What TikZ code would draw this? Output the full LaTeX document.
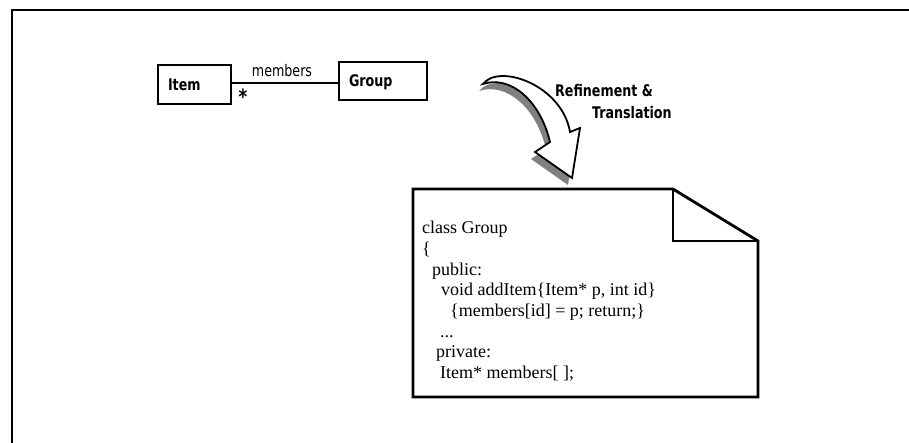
\documentclass[tikz,border=0pt]{standalone}
\usepackage{fontspec}
\setmainfont{Liberation Serif}
\newfontfamily\labelfont[FakeStretch=0.88]{DejaVu Sans Condensed}
\newfontfamily\codefont{Liberation Serif}
\definecolor{arrowshadow}{RGB}{128,128,128}
\begin{document}
\begin{tikzpicture}[x=1pt,y=-1pt,
  classbox/.style={draw, line width=2.6pt, anchor=center, inner xsep=10pt,
    align=left, text height=11.7pt, text depth=0pt,
    font=\labelfont\fontsize{16}{18}\selectfont\bfseries},
  assoc/.style={line width=2pt},
  smalllabel/.style={font=\labelfont\fontsize{16}{18}\selectfont, inner sep=0pt},
  bigarrow/.style={draw, line width=1.8pt, fill=white, line join=miter},
  notebox/.style={line width=2.8pt, line join=miter},
  codeline/.style={font=\codefont\fontsize{18}{20.6}\selectfont, anchor=base west, inner sep=0pt}]
  \useasboundingbox (0,0) rectangle (909,443);

  % frame
  \draw[line width=1.4pt] (12,443) -- (12,10) -- (909,10);

  % class diagram
  \node[classbox, text width=53pt, minimum height=39pt] (item) at (194.5,84.5) {Item};
  \node[classbox, text width=68pt, minimum height=38pt] (group) at (383,81) {Group};
  \coordinate (assocend) at (item.east -| group.west);
  \draw[assoc] ([yshift=1.5pt]item.east) -- ([yshift=1.5pt]assocend);
  \node[smalllabel, anchor=base] (role) at (282,77) {members};
  \node[smalllabel, font=\labelfont\fontsize{21}{22}\selectfont\bfseries] (mult) at (243,97) {*};

  % curved refinement arrow with its drop shadow
  \path[fill=arrowshadow, shift={(-4,7)}]
    (483,84) .. controls (499,63) and (562,85) .. (570,132)
    -- (580,128) -- (572,178) -- (535,152) -- (550,142)
    .. controls (540,100) and (510,75) .. (483,84) -- cycle;
  \path[bigarrow]
    (483,84) .. controls (499,63) and (562,85) .. (570,132)
    -- (580,128) -- (572,178) -- (535,152) -- (550,142)
    .. controls (540,100) and (510,75) .. (483,84) -- cycle;
  \node[font=\labelfont\fontsize{16}{18}\selectfont\bfseries, anchor=west, inner sep=0pt]
    (refine) at (555,91) {Refinement \&};
  \node[font=\labelfont\fontsize{16}{18}\selectfont\bfseries, anchor=west, inner sep=0pt]
    (transl) at (592,113) {Translation};

  % note with folded corner
  \draw[notebox] (413,189) -- (673,189) -- (758,241) -- (758,397) -- (413,397) -- cycle;
  \draw[notebox] (673,189) -- (673,241) -- (758,241);

  % code inside the note
  \foreach \dx/\txt [count=\i] in {
      0/{class Group},
      0/{\{},
      10/{public:},
      19/{void addItem\{Item* p, int id\}},
      28/{\{members[id] = p; return;\}},
      18/{...},
      14/{private:},
      18/{Item* members[ ];}}
    \node[codeline] (code\i) at (422+\dx, 234+20.6*\i-20.6) {\txt};
\end{tikzpicture}
\end{document}
